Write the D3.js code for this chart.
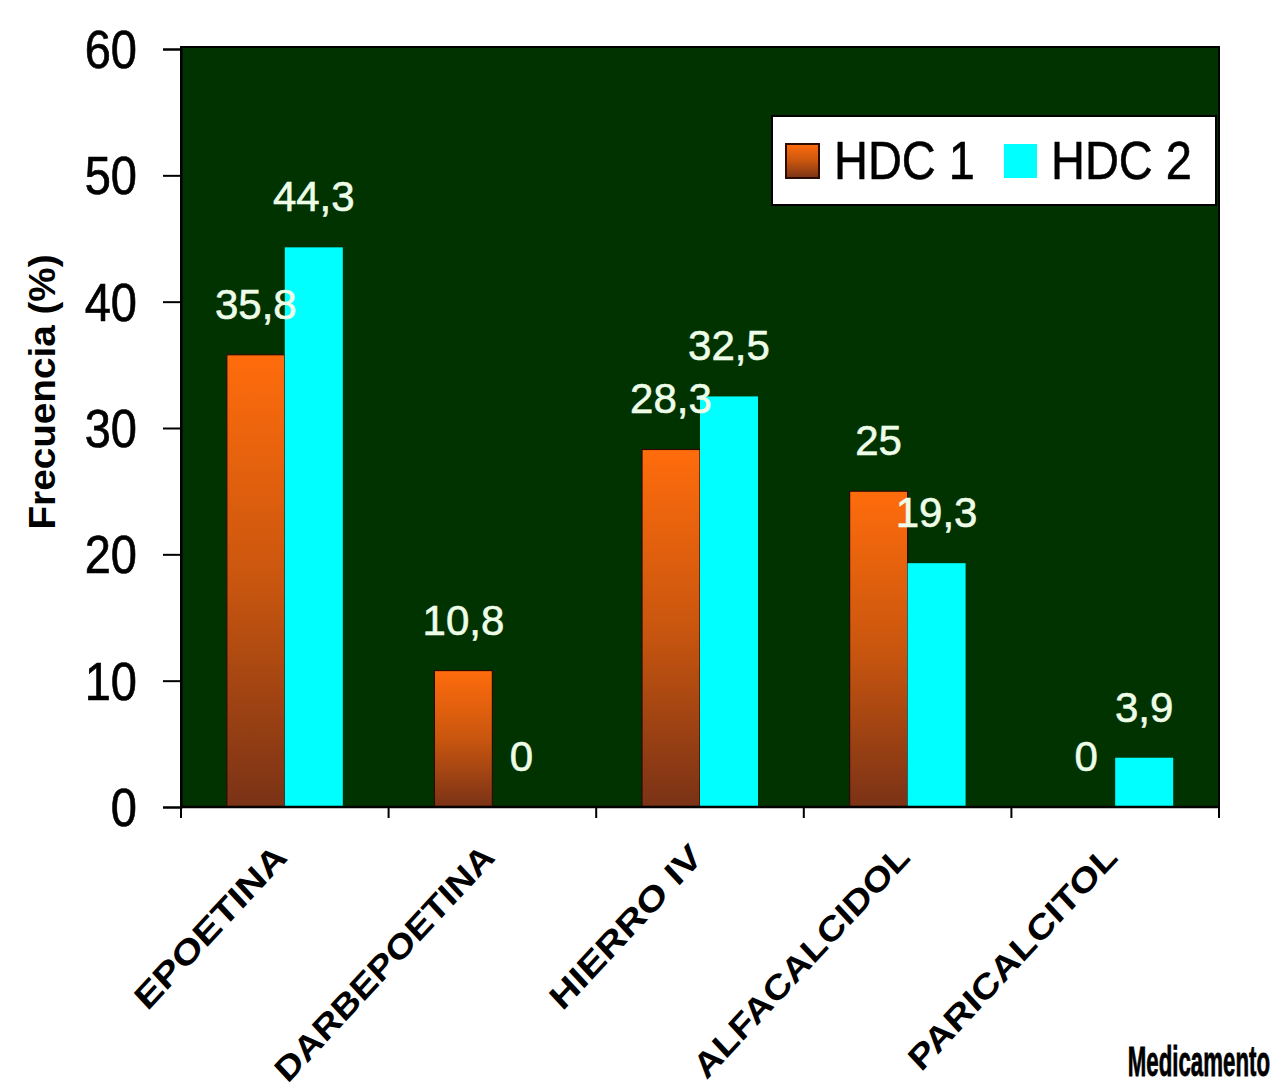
<!DOCTYPE html>
<html>
<head>
<meta charset="utf-8">
<script src="https://cdn.jsdelivr.net/npm/d3@7"></script>
<style>
  html, body { margin: 0; padding: 0; background: #ffffff; }
  svg { display: block; }
  text { font-family: Arial, "Liberation Sans", sans-serif; }
</style>
</head>
<body>
<svg id="chart" width="1283" height="1088"></svg>
<script>
const categories = ["EPOETINA", "DARBEPOETINA", "HIERRO IV", "ALFACALCIDOL", "PARICALCITOL"];
const seriesNames = ["HDC 1", "HDC 2"];
const hdc1 = [35.8, 10.8, 28.3, 25, 0];
const hdc2 = [44.3, 0, 32.5, 19.3, 3.9];
const yTicks = [0, 10, 20, 30, 40, 50, 60];
const xTitle = "Medicamento";
const yTitle = "Frecuencia (%)";

const svg = d3.select("#chart");
const plot = { left: 181, right: 1219, top: 49, bottom: 807 };

const x0 = d3.scaleBand().domain(categories).range([plot.left, plot.right]).padding(0);
const x1 = d3.scaleBand().domain(seriesNames).range([0, x0.bandwidth()]).paddingOuter(0.79).paddingInner(0);
const y = d3.scaleLinear().domain([0, 60]).range([plot.bottom, plot.top]);

const defs = svg.append("defs");
const grad = defs.append("linearGradient").attr("id", "gOrange")
  .attr("x1", 0).attr("y1", 0).attr("x2", 0).attr("y2", 1);
grad.append("stop").attr("offset", "0%").attr("stop-color", "#ff6c0c");
grad.append("stop").attr("offset", "50%").attr("stop-color", "#c9560f");
grad.append("stop").attr("offset", "100%").attr("stop-color", "#7a3216");

// plot background
svg.append("rect")
  .attr("x", plot.left).attr("y", plot.top - 2)
  .attr("width", plot.right - plot.left).attr("height", plot.bottom - plot.top + 2)
  .attr("fill", "#013301").attr("stroke", "#000").attr("stroke-width", 2);

const rows = categories.map((c, i) => ({ cat: c, vals: [hdc1[i], hdc2[i]] }));
const fmt = v => String(v).replace(".", ",");

const groups = svg.append("g").selectAll("g").data(rows).join("g")
  .attr("transform", d => `translate(${x0(d.cat)},0)`);

groups.selectAll("rect").data(d => d.vals.map((v, k) => ({ s: seriesNames[k], v, k })))
  .join("rect")
  .attr("x", d => x1(d.s))
  .attr("y", d => y(d.v))
  .attr("width", x1.bandwidth())
  .attr("height", d => y(0) - y(d.v))
  .attr("fill", d => d.k === 0 ? "url(#gOrange)" : "#00ffff")
  .attr("stroke", d => d.k === 0 && d.v > 0 ? "#2a0c02" : "none")
  .attr("stroke-width", 1.2);

groups.selectAll("text.val").data(d => d.vals.map((v, k) => ({ s: seriesNames[k], v, k })))
  .join("text").attr("class", "val")
  .attr("x", d => x1(d.s) + x1.bandwidth() / 2)
  .attr("y", d => y(d.v) - 36)
  .attr("text-anchor", "middle")
  .attr("font-size", 42)
  .attr("fill", "#eefde8")
  .attr("stroke", "#eefde8").attr("stroke-width", 0.6)
  .text(d => fmt(d.v));

// Y axis
const yAxis = svg.append("g").attr("transform", `translate(${plot.left},0)`)
  .call(d3.axisLeft(y).tickValues(yTicks).tickSize(18).tickFormat(""));
yAxis.select(".domain").attr("stroke", "#000").attr("stroke-width", 2);
yAxis.selectAll(".tick line").attr("stroke", "#000").attr("stroke-width", 2);

svg.append("g").selectAll("text").data(yTicks).join("text")
  .attr("transform", d => `translate(137,${y(d)}) scale(1,1.13)`)
  .attr("dy", "0.36em")
  .attr("text-anchor", "end")
  .attr("font-size", 47)
  .attr("fill", "#000")
  .attr("stroke", "#000").attr("stroke-width", 0.6)
  .text(d => d);

// X axis ticks at category boundaries
const bounds = categories.map(c => x0(c)).concat([plot.right]);
svg.append("g").selectAll("line").data(bounds).join("line")
  .attr("x1", d => d).attr("x2", d => d)
  .attr("y1", plot.bottom).attr("y2", plot.bottom + 11)
  .attr("stroke", "#000").attr("stroke-width", 2);
svg.append("line").attr("x1", plot.left - 1).attr("x2", plot.right + 1)
  .attr("y1", plot.bottom).attr("y2", plot.bottom)
  .attr("stroke", "#000").attr("stroke-width", 2.5);

const xLabelLen = { "EPOETINA": 200, "DARBEPOETINA": 295, "HIERRO IV": 200, "ALFACALCIDOL": 290, "PARICALCITOL": 280 };
svg.append("g").selectAll("text").data(categories).join("text")
  .attr("transform", d => `translate(${x0(d) + x0.bandwidth() / 2 + 4},${plot.bottom + 52}) scale(1,1.08) rotate(-45)`)
  .attr("text-anchor", "end")
  .attr("font-size", 32)
  .attr("font-weight", "bold")
  .attr("textLength", d => xLabelLen[d])
  .attr("lengthAdjust", "spacingAndGlyphs")
  .attr("fill", "#000")
  .text(d => d);

// Titles
svg.append("text")
  .attr("transform", "translate(1270,1076) scale(0.53,1)")
  .attr("text-anchor", "end")
  .attr("font-size", 42).attr("font-weight", "bold")
  .attr("stroke", "#000").attr("stroke-width", 0.8)
  .text(xTitle);

svg.append("text")
  .attr("transform", "translate(55,392) rotate(-90)")
  .attr("text-anchor", "middle")
  .attr("font-size", 36).attr("font-weight", "bold")
  .attr("textLength", 275).attr("lengthAdjust", "spacingAndGlyphs")
  .text(yTitle);

// Legend
const lg = svg.append("g");
lg.append("rect").attr("x", 772).attr("y", 116).attr("width", 444).attr("height", 89)
  .attr("fill", "#fff").attr("stroke", "#000").attr("stroke-width", 2);
const legendItems = [
  { name: seriesNames[0], sx: 786, tx: 834, fill: "url(#gOrange)", stroke: "#2a0c02" },
  { name: seriesNames[1], sx: 1004, tx: 1051, fill: "#00ffff", stroke: "none" }
];
lg.selectAll("rect.sw").data(legendItems).join("rect").attr("class", "sw")
  .attr("x", d => d.sx).attr("y", 144).attr("width", 33).attr("height", 34)
  .attr("fill", d => d.fill).attr("stroke", d => d.stroke).attr("stroke-width", 2);
lg.selectAll("text").data(legendItems).join("text")
  .attr("transform", d => `translate(${d.tx},179) scale(1,1.15)`)
  .attr("font-size", 47)
  .attr("fill", "#000")
  .attr("stroke", "#000").attr("stroke-width", 0.5)
  .text(d => d.name);
</script>
</body>
</html>
